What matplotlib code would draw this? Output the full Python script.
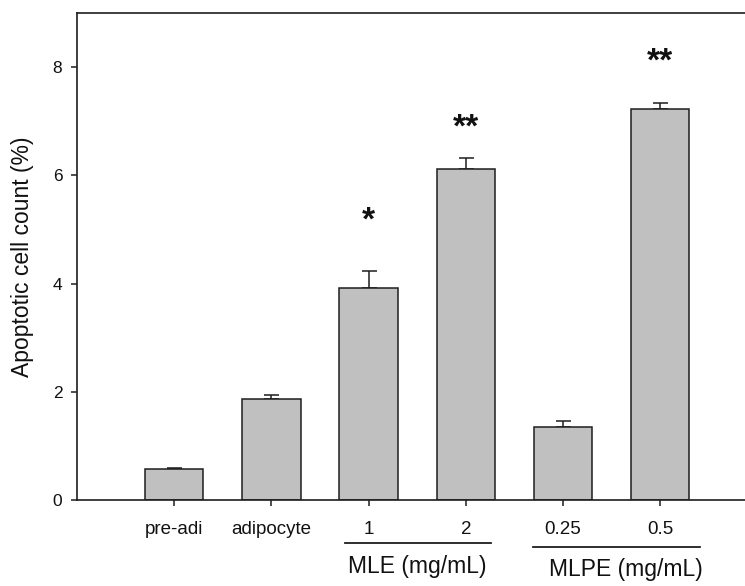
import matplotlib
matplotlib.use("Agg")
import matplotlib.pyplot as plt
import numpy as np

plt.rcParams['font.family'] = ['Liberation Sans', 'DejaVu Sans']

# Apoptotic cell counts (%) per treatment
categories = ["pre-adi", "adipocyte", "1", "2", "0.25", "0.5"]
means = [0.57, 1.87, 3.92, 6.12, 1.36, 7.23]
errors = [0.02, 0.08, 0.32, 0.19, 0.11, 0.11]
significance = ["", "", "*", "**", "", "**"]

# Treatment groups spanning the dose categories
groups = ["MLE (mg/mL)", "MLPE (mg/mL)"]
group_members = [["1", "2"], ["0.25", "0.5"]]

fig = plt.figure(figsize=(7.45, 5.86), dpi=100)
ax = fig.add_axes([77 / 745, 85.7 / 586, 680.4 / 745, 487.6 / 586])

x = np.arange(1, len(categories) + 1)
edge = "#1e1e1e"
ax.bar(x, means, width=0.6, color="#c0c0c0", edgecolor=edge, linewidth=1.1, zorder=2)
ax.errorbar(x, means, yerr=[np.zeros(len(errors)), errors], fmt="none",
            ecolor=edge, elinewidth=1.1, capsize=5.4, capthick=1.1, zorder=1)

# significance marks above the error bars
star_lift = [0, 0, 36, 22, 0, 29]
for xi, m, e, s, lift in zip(x, means, errors, significance, star_lift):
    if s:
        ax.annotate(s, (xi, m + e), xytext=(0, lift), textcoords="offset points",
                    ha="center", va="center", fontsize=24, fontweight="bold",
                    color="#111111")

ax.set_xlim(0, 7)
ax.set_ylim(0, 9)
ax.set_yticks([0, 2, 4, 6, 8])
ax.set_xticks(x)
ax.set_xticklabels(categories, fontsize=13.5)
ax.tick_params(axis="x", length=4.3, width=1.1, pad=10.3, colors=edge)
ax.tick_params(axis="y", length=4.3, width=1.1, pad=6.3, labelsize=12.5, colors=edge)
for lbl in ax.get_xticklabels() + ax.get_yticklabels():
    lbl.set_color("#111111")

for side in ["left", "bottom", "top"]:
    ax.spines[side].set_linewidth(1.2)
    ax.spines[side].set_color(edge)
ax.spines["right"].set_visible(False)

ax.set_ylabel("Apoptotic cell count (%)", fontsize=16.5, color="#111111")
ax.yaxis.set_label_coords((34.5 - 77) / 680.4, 0.5)

# group brackets and captions beneath the dose labels
trans = ax.get_xaxis_transform()
line_spans = [(-0.244, 0.261), (-0.313, 0.414)]
line_y = [-0.0882, -0.0958]
text_y = [-0.1362, -0.1418]
text_shift = [0.0, 0.147]
pos = dict(zip(categories, x))
for g, members, (lo, hi), ly, ty, sh in zip(groups, group_members, line_spans,
                                             line_y, text_y, text_shift):
    x0 = pos[members[0]] + lo
    x1 = pos[members[-1]] + hi
    ax.plot([x0, x1], [ly, ly], transform=trans, color=edge, lw=1.3, clip_on=False)
    xc = (pos[members[0]] + pos[members[-1]]) / 2 + sh
    ax.text(xc, ty, g, transform=trans, ha="center", va="center",
            fontsize=16.5, color="#111111")

fig.savefig("out.png", dpi=100)
